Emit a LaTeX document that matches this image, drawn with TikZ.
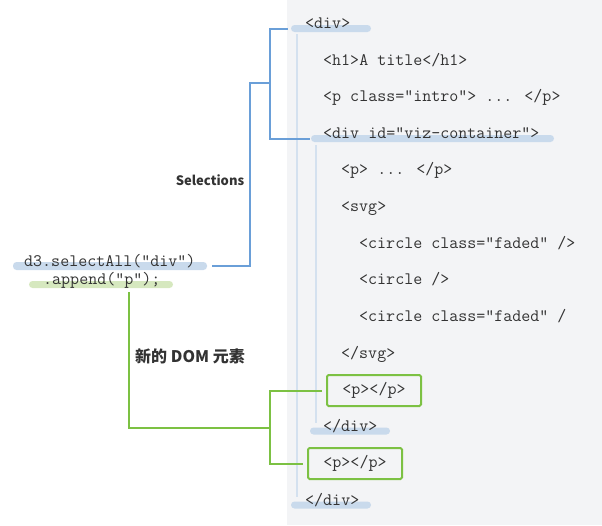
\documentclass[tikz,border=0pt]{standalone}
\usepackage{fontspec}
\newfontfamily\cjk{Noto Sans CJK SC}
\definecolor{panel}{HTML}{F3F4F6}
\definecolor{guide}{HTML}{D4E1EF}
\definecolor{barblue}{HTML}{C9DAEC}
\definecolor{bargreen}{HTML}{D6E8BF}
\definecolor{lblue}{HTML}{6A9FD8}
\definecolor{lgreen}{HTML}{7CC143}
\definecolor{txt}{HTML}{333333}
\begin{document}
\begin{tikzpicture}[x=1pt,y=-1pt,
  mono/.style={font=\ttfamily\fontsize{17.5}{20}\selectfont},
  code/.style={mono, text=txt, anchor=base west, inner sep=0pt},
  bbar/.style={fill=barblue, rounded corners=3.5pt, minimum height=7pt, inner sep=0pt, draw=none},
  gbar/.style={fill=bargreen, rounded corners=3.5pt, minimum height=7pt, inner sep=0pt, draw=none},
  guideline/.style={draw=guide, line width=2.5pt},
  bline/.style={draw=lblue, line width=2pt},
  gline/.style={draw=lgreen, line width=2pt},
  pbox/.style={mono, draw=lgreen, line width=2pt, rounded corners=1.5pt, minimum width=94pt, minimum height=31pt, inner sep=0pt, text=txt},
  lbl/.style={font=\cjk\bfseries\fontsize{13}{15}\selectfont, text=txt, inner sep=0pt}
]
\useasboundingbox (0,0) rectangle (602,525);
\fill[panel] (287,0) rectangle (602,525);
\draw[guideline] (297,34) -- (297,497);
\draw[guideline] (316,145) -- (316,423);
% highlight bars
\node[bbar, minimum width=80pt] (bdiv) at (331,28.5) {};
\node[bbar, minimum width=243pt] (bviz) at (432.5,138.5) {};
\node[bbar, minimum width=80pt] (bdivc) at (350,431) {};
\node[bbar, minimum width=80pt] (bdive) at (331,505) {};
\node[bbar, minimum width=194pt, minimum height=8pt] (bsel) at (110,266) {};
\node[gbar, minimum width=144pt] (bapp) at (101,284.5) {};
% code lines
\node[code] (l0) at (305,28) {<div>};
\node[code] (l1) at (323,65) {<h1>A title</h1>};
\node[code] (l2) at (323,101) {<p class="intro"> ... </p>};
\node[code] (l3) at (323,138) {<div id="viz-container">};
\node[code] (l4) at (341,174) {<p> ... </p>};
\node[code] (l5) at (341,211) {<svg>};
\node[code] (l6) at (359,248) {<circle class="faded" />};
\node[code] (l7) at (359,284) {<circle />};
\node[code] (l8) at (359,321) {<circle class="faded" /};
\node[code] (l9) at (341,358) {</svg>};
\node[pbox] (box1) at (374,390.5) {<p></p>};
\node[code] (l11) at (323,431) {</div>};
\node[pbox] (box2) at (355,463.5) {<p></p>};
\node[code] (l13) at (305,505) {</div>};
\node[code] (sel) at (24,266) {d3.selectAll("div")};
\node[code] (app) at (43,284) {.append("p");};
% labels
\node[lbl] (selections) at (210,180) {Selections};
\node[lbl, font=\cjk\bfseries\fontsize{16}{18}\selectfont] (newdom) at (190,356) {新的 DOM 元素};
% blue connector
\coordinate (bs) at ([xshift=5pt]bsel.east);
\coordinate (bj) at (250,83);
\coordinate (bk) at (270,83);
\draw[bline] (bs) -| (bj) -- (bk);
\draw[bline] ([xshift=-3pt]bdiv.west) -| (270,138.5) -- ([xshift=-1pt]bviz.west);
% green connector
\coordinate (gs) at (129,292);
\coordinate (gk) at (270,428);
\draw[gline] (gs) |- (gk);
\draw[gline] ([xshift=-4pt]box1.west) -| (270,463.5) -- ([xshift=-4pt]box2.west);
\end{tikzpicture}
\end{document}
